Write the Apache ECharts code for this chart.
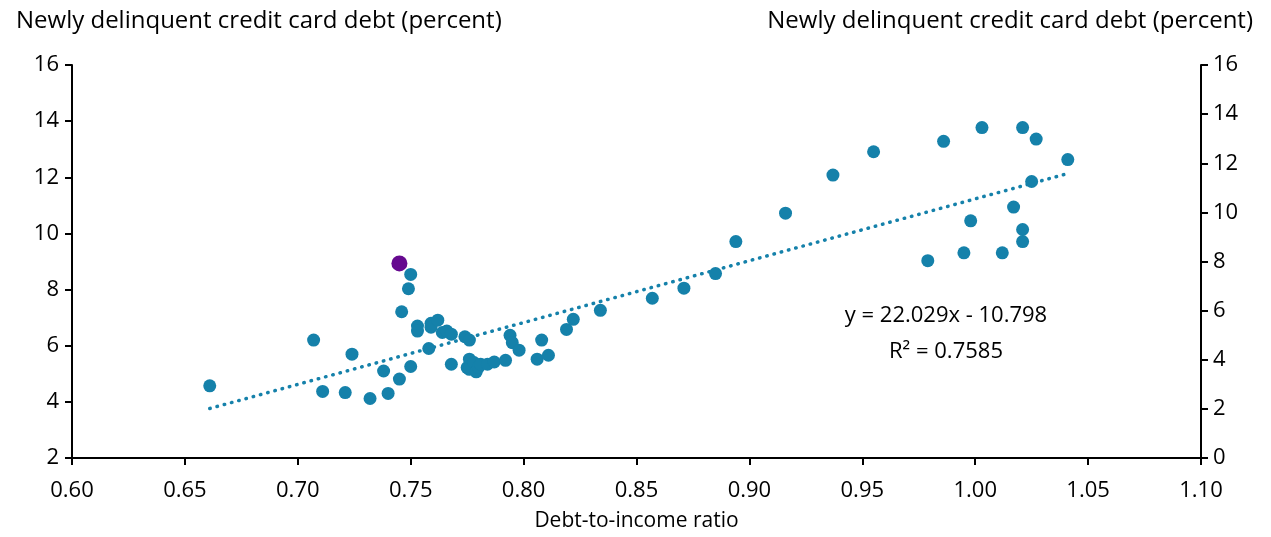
<!DOCTYPE html>
<html>
<head>
<meta charset="utf-8">
<script src="https://cdn.jsdelivr.net/npm/echarts@6/dist/echarts.min.js"></script>
<style>
html, body { margin: 0; padding: 0; background: #fff; }
#chart { width: 1271px; height: 537px; }
</style>
</head>
<body>
<div id="chart"></div>
<script>
// debt-to-income ratio vs newly delinquent credit card debt (percent)
var dtiValues = [
    0.661, 0.707, 0.711, 0.721, 0.724, 0.732, 0.738, 0.740, 0.745, 0.746,
    0.749, 0.750, 0.750, 0.753, 0.753, 0.758, 0.759, 0.759, 0.762, 0.764,
    0.766, 0.768, 0.768, 0.774, 0.775, 0.776, 0.776, 0.776, 0.778, 0.779,
    0.780, 0.781, 0.784, 0.787, 0.792, 0.794, 0.795, 0.798, 0.806, 0.808,
    0.811, 0.819, 0.822, 0.834, 0.857, 0.871, 0.885, 0.894, 0.916, 0.937,
    0.955, 0.979, 0.986, 0.995, 0.998, 1.003, 1.012, 1.017, 1.021, 1.021,
    1.021, 1.025, 1.027, 1.041
];
var delinqValues = [
    4.57, 6.20, 4.37, 4.33, 5.70, 4.12, 5.10, 4.30, 4.81, 7.21,
    8.03, 8.54, 5.26, 6.70, 6.52, 5.90, 6.80, 6.66, 6.91, 6.47,
    6.52, 6.41, 5.34, 6.32, 5.22, 6.20, 5.52, 5.16, 5.40, 5.07,
    5.23, 5.34, 5.34, 5.42, 5.48, 6.37, 6.11, 5.84, 5.52, 6.20,
    5.66, 6.58, 6.94, 7.26, 7.69, 8.05, 8.57, 9.71, 10.72, 12.08,
    12.91, 9.03, 13.28, 9.31, 10.45, 13.77, 9.31, 10.94, 13.77, 10.14,
    9.71, 11.85, 13.36, 12.63
];
// highlighted (latest) observation
var latestPoint = [0.745, 8.93];
// linear trend endpoints: y = 22.029x - 10.798
var trendX = [0.661, 1.041];
var trendY = [3.763, 12.134];

var leftTicks = [2, 16, 2];
var rightTicks = [0, 16, 2];
var xTicks = [0.60, 1.10, 0.05];

var teal = '#1581AA';
var purple = '#66098F';
var fontName = '"Open Sans", "Noto Sans", sans-serif';

var scatterData = [];
for (var i = 0; i < dtiValues.length; i++) {
    scatterData.push([dtiValues[i], delinqValues[i]]);
}
var trendData = [];
for (var j = 0; j < trendX.length; j++) {
    trendData.push([trendX[j], trendY[j]]);
}

var axisLine = { show: true, lineStyle: { color: '#000', width: 2 } };
var axisTick = { show: true, inside: false, length: 7, lineStyle: { color: '#000', width: 2 } };

var chart = echarts.init(document.getElementById('chart'));
chart.setOption({
    animation: false,
    textStyle: { fontFamily: fontName },
    title: [
        {
            text: 'Newly delinquent credit card debt (percent)',
            left: 11, top: 4,
            textStyle: { fontSize: 24, fontWeight: 'normal', color: '#000', fontFamily: fontName }
        },
        {
            text: 'Newly delinquent credit card debt (percent)',
            right: 13, top: 4,
            textStyle: { fontSize: 24, fontWeight: 'normal', color: '#000', fontFamily: fontName }
        }
    ],
    grid: { left: 72, right: 70, top: 65, bottom: 77, containLabel: false },
    xAxis: {
        type: 'value',
        min: xTicks[0], max: xTicks[1], interval: xTicks[2],
        name: 'Debt-to-income ratio',
        nameLocation: 'middle',
        nameGap: 53,
        nameTextStyle: { fontSize: 21, color: '#000' },
        axisLine: axisLine,
        axisTick: axisTick,
        splitLine: { show: false },
        axisLabel: {
            fontSize: 22, color: '#000', margin: 22,
            formatter: function (v) { return v.toFixed(2); }
        }
    },
    yAxis: [
        {
            type: 'value', position: 'left',
            min: leftTicks[0], max: leftTicks[1], interval: leftTicks[2],
            axisLine: axisLine, axisTick: axisTick,
            splitLine: { show: false },
            axisLabel: { fontSize: 22, color: '#000', margin: 13 }
        },
        {
            type: 'value', position: 'right',
            min: rightTicks[0], max: rightTicks[1], interval: rightTicks[2],
            axisLine: axisLine, axisTick: axisTick,
            splitLine: { show: false },
            axisLabel: { fontSize: 22, color: '#000', margin: 12 }
        }
    ],
    series: [
        {
            name: 'trend',
            type: 'line',
            yAxisIndex: 0,
            data: trendData,
            symbol: 'none',
            lineStyle: { color: teal, width: 3.5, type: [0.5, 7], cap: 'round' },
            z: 1
        },
        {
            name: 'obs',
            type: 'scatter',
            yAxisIndex: 0,
            data: scatterData,
            symbolSize: 13,
            itemStyle: { color: teal, opacity: 1 },
            z: 2
        },
        {
            name: 'latest',
            type: 'scatter',
            yAxisIndex: 0,
            data: [latestPoint],
            symbolSize: 16,
            itemStyle: { color: purple, opacity: 1 },
            z: 3
        }
    ],
    graphic: [
        {
            type: 'text', x: 946, y: 316,
            style: { text: 'y = 22.029x - 10.798', font: '22px ' + fontName, fill: '#000', align: 'center', verticalAlign: 'middle' }
        },
        {
            type: 'text', x: 946, y: 352,
            style: { text: 'R² = 0.7585', font: '22px ' + fontName, fill: '#000', align: 'center', verticalAlign: 'middle' }
        }
    ]
});
</script>
</body>
</html>
